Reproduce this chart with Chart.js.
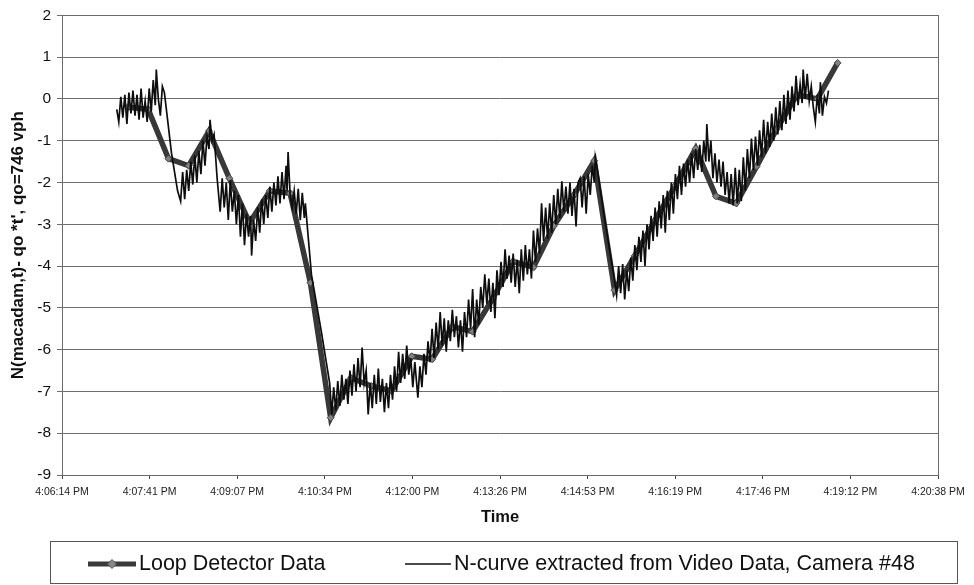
<!DOCTYPE html>
<html>
<head>
<meta charset="utf-8">
<script src="https://cdn.jsdelivr.net/npm/chart.js@4"></script>
<style>
  html, body { margin: 0; padding: 0; background: #fff; }
  #wrap { position: relative; width: 974px; height: 585px; font-family: "Liberation Sans", Arial, sans-serif; }
  #legend {
    position: absolute; left: 50px; top: 541px; width: 906px; height: 41px;
    border: 1px solid #555; box-sizing: content-box;
  }
  .item { position: absolute; top: 1px; height: 41px; display: flex; align-items: center; font-size: 21.5px; color: #111; white-space: nowrap; }
  .item svg { display: block; margin-right: 3px; }
</style>
</head>
<body>
<div id="wrap">
  <canvas id="chart" width="974" height="585"></canvas>
  <div id="legend">
    <div class="item" style="left:37px">
      <svg width="48" height="12"><line x1="0" y1="6" x2="48" y2="6" stroke="#3a3a3a" stroke-width="5"/><polygon points="24,1.5 28.5,6 24,10.5 19.5,6" fill="#888" stroke="#555" stroke-width="1"/></svg>
      <span>Loop Detector Data</span>
    </div>
    <div class="item" style="left:354px">
      <svg width="46" height="12"><line x1="0" y1="6" x2="46" y2="6" stroke="#111" stroke-width="1.5"/></svg>
      <span>N-curve extracted from Video Data, Camera #48</span>
    </div>
  </div>
</div>
<script>
// Time axis: seconds after 4:06:14 PM, one tick every 0.001 day (86.4 s)
const tickSeconds = [0, 86.4, 172.8, 259.2, 345.6, 432, 518.4, 604.8, 691.2, 777.6, 864];
const tickLabels = ['4:06:14 PM', '4:07:41 PM', '4:09:07 PM', '4:10:34 PM', '4:12:00 PM',
                    '4:13:26 PM', '4:14:53 PM', '4:16:19 PM', '4:17:46 PM', '4:19:12 PM', '4:20:38 PM'];

// Loop detector counts, 20-second intervals
const loopTimes = [65, 85, 105, 125, 145, 165, 185, 205, 225, 245, 265, 285, 305, 325, 345, 365,
                   385, 405, 425, 445, 465, 485, 505, 525, 545, 565, 585, 605, 625, 645, 665, 685,
                   705, 725, 745, 765];
const loopCounts = [-0.2, -0.25, -1.43, -1.6, -0.77, -1.9, -2.97, -2.2, -2.26, -4.4, -7.63, -6.68,
                    -6.87, -6.99, -6.16, -6.23, -5.45, -5.57, -4.77, -3.89, -4.03, -3.04, -2.3, -1.48,
                    -4.58, -3.75, -2.9, -2.07, -1.19, -2.33, -2.5, -1.62, -0.72, 0.1, 0.0, 0.86];

// N-curve from the video, [seconds, N - qo*t]
const videoCurve = [
  [54,-0.25],[56,-0.55],[58,0.05],[60,-0.45],[62,0.1],[64,-0.6],[66,0.15],[68,-0.35],[70,0.2],[72,-0.4],
  [74,0.1],[76,-0.5],[78,0.25],[80,-0.45],[82,-0.05],[84,-0.55],[86,0.25],[88,-0.3],[90,0.45],[92,-0.15],
  [93,0.7],[95,0.0],[97,-0.4],[99,0.3],[101,0.15],[108,-1.3],[114,-2.2],
  [117,-2.45],[119,-1.75],[121,-2.4],[123,-1.7],[125,-2.2],[127,-1.5],[129,-2.05],[131,-1.35],[133,-2.0],
  [135,-1.25],[137,-1.8],[139,-1.0],[141,-1.6],[143,-0.9],[145,-1.2],[146,-0.5],
  [148,-1.0],[150,-0.85],[153,-1.9],[156,-2.7],
  [158,-1.9],[160,-2.6],[162,-2.0],[164,-2.9],[166,-1.95],[168,-2.7],[170,-2.2],[172,-3.0],[174,-2.3],
  [176,-3.3],[178,-2.5],[180,-3.5],[182,-2.75],[184,-3.3],[186,-2.8],[187,-3.75],
  [189,-2.9],[191,-3.4],[193,-2.6],[195,-3.2],[197,-2.4],[199,-3.0],[201,-2.3],[203,-2.85],[205,-2.1],
  [207,-2.7],[209,-2.0],[211,-2.55],[213,-1.85],[215,-2.5],[217,-1.75],[219,-2.4],[221,-1.6],[222,-2.2],
  [223,-1.27],[225,-2.3],[227,-2.6],[229,-2.2],[231,-2.75],[233,-2.15],[235,-2.9],[237,-2.25],[239,-2.85],
  [240,-2.5],[246,-4.2],[256,-5.6],[264,-6.8],[266,-7.55],
  [268,-6.9],[270,-7.45],[272,-6.75],[274,-7.35],[276,-6.6],[278,-7.2],[280,-6.7],[282,-7.3],[284,-6.5],
  [286,-7.1],[288,-6.35],[290,-7.0],[292,-6.2],[294,-6.9],[296,-5.95],[298,-6.8],[300,-6.5],[302,-7.55],
  [304,-6.8],[306,-7.4],[308,-6.6],[310,-7.3],[312,-6.45],[314,-7.25],[316,-6.7],[318,-7.5],[320,-6.8],
  [322,-7.4],[324,-6.6],[326,-7.2],[328,-6.4],[330,-7.0],[332,-6.05],[334,-6.8],[336,-6.1],[338,-6.7],
  [340,-5.9],[342,-6.6],[344,-6.2],[346,-6.9],[348,-6.3],[351,-7.15],[353,-6.4],[355,-6.9],[357,-6.1],
  [359,-6.6],[361,-5.8],[363,-6.3],[365,-5.5],[367,-6.2],
  [369,-5.35],[371,-6.0],[373,-5.1],[375,-5.9],[377,-5.25],[379,-6.05],[381,-5.3],[383,-5.8],[385,-5.05],
  [387,-5.7],[389,-5.2],[391,-5.95],[393,-5.3],[395,-6.05],[397,-5.1],[399,-5.7],[401,-4.8],[403,-5.5],
  [405,-4.55],[407,-5.7],[409,-4.8],[411,-5.4],[413,-4.5],
  [415,-5.0],[417,-4.2],[419,-4.9],[421,-4.3],[423,-5.1],[425,-4.4],[427,-5.25],[429,-4.1],[431,-4.7],
  [433,-3.9],[435,-4.5],[437,-3.6],[439,-4.3],[441,-3.75],[443,-4.4],[445,-3.7],[447,-4.5],[449,-3.85],
  [451,-4.65],[453,-3.6],[455,-4.35],[457,-3.5],[459,-4.2],[461,-3.6],[463,-4.3],[465,-3.15],[467,-3.9],
  [469,-3.1],[471,-3.7],[473,-2.5],[475,-3.4],[477,-2.6],[479,-3.35],[481,-2.5],[483,-3.2],[485,-2.3],
  [487,-3.0],[489,-2.15],[491,-2.85],[493,-1.97],[495,-2.7],[497,-2.1],[499,-2.75],[501,-2.0],[503,-2.8],
  [505,-2.15],[507,-3.05],[509,-2.0],[511,-1.9],[513,-2.6],[515,-1.85],[517,-2.75],[519,-1.8],[521,-2.3],
  [523,-1.6],[525,-2.0],[526,-1.4],
  [528,-1.7],[536,-3.0],[544,-4.2],[547,-4.7],
  [549,-4.0],[551,-4.65],[553,-3.95],[555,-4.8],[557,-4.1],[559,-4.6],[561,-3.8],[563,-4.35],[565,-3.5],
  [567,-4.1],[569,-3.3],[571,-3.9],[573,-3.15],[575,-4.0],[577,-3.0],[579,-3.6],[581,-2.8],[583,-3.4],
  [585,-2.6],[587,-3.3],[589,-2.45],[591,-3.1],[593,-2.3],[595,-3.2],[597,-2.2],[599,-2.9],[601,-2.0],
  [603,-2.75],[605,-1.8],[607,-2.4],[609,-1.6],[611,-2.3],[613,-1.55],[615,-2.1],[617,-1.45],[619,-2.0],
  [621,-1.3],[623,-1.9],[625,-1.2],[627,-1.7],[629,-1.1],[631,-1.75],[633,-1.0],[635,-1.5],[636,-0.6],
  [638,-1.5],[640,-1.0],[642,-1.9],[644,-1.3],[646,-2.0],[648,-1.45],[650,-2.1],[652,-1.5],[654,-2.3],
  [656,-1.75],[658,-2.5],[660,-1.8],[662,-2.55],[664,-1.65],[666,-2.5],[668,-1.7],[670,-2.45],
  [672,-1.4],[674,-2.2],[676,-1.2],[678,-1.9],[680,-0.95],[682,-1.7],[684,-0.9],[686,-1.6],[688,-0.75],
  [690,-1.4],[692,-0.5],[694,-1.3],[696,-0.55],[698,-1.15],[700,-0.35],[702,-1.0],[704,-0.2],[706,-0.85],
  [708,-0.05],[710,-0.75],[712,0.1],[714,-0.6],[716,0.2],[718,-0.5],[720,0.3],[722,-0.3],[724,0.55],
  [726,-0.15],[728,0.35],[730,-0.1],[731,0.7],[733,0.0],[735,0.6],[737,-0.05],[739,0.3],[741,-0.2],
  [743,-0.55],[745,0.1],[747,-0.35],[748,0.4],[750,-0.4],[752,0.05],[754,-0.1],[756,0.2]
];

const FONT = '"Liberation Sans", Arial, sans-serif';

// Outline of the plotting area (top and right edges)
const frame = {
  id: 'frame',
  beforeDatasetsDraw(chart) {
    const { ctx, chartArea: a } = chart;
    ctx.save();
    ctx.strokeStyle = '#6a6a6a';
    ctx.lineWidth = 1;
    ctx.strokeRect(Math.round(a.left) + 0.5, Math.round(a.top) + 0.5,
                   Math.round(a.right - a.left), Math.round(a.bottom - a.top));
    ctx.restore();
  }
};

new Chart(document.getElementById('chart'), {
  type: 'line',
  data: {
    datasets: [
      {
        label: 'N-curve extracted from Video Data, Camera #48',
        data: videoCurve.map(([x, y]) => ({ x, y })),
        borderColor: '#0d0d0d',
        borderWidth: 1.7,
        pointRadius: 0,
        tension: 0,
        order: 0
      },
      {
        label: 'Loop Detector Data',
        data: loopTimes.map((x, i) => ({ x, y: loopCounts[i] })),
        borderColor: '#383838',
        borderWidth: 5.5,
        pointStyle: 'rectRot',
        pointRadius: 3.5,
        pointBackgroundColor: '#808080',
        pointBorderColor: '#4a4a4a',
        pointBorderWidth: 1,
        tension: 0,
        order: 1
      }
    ]
  },
  options: {
    responsive: false,
    animation: false,
    devicePixelRatio: 1,
    layout: { padding: { top: 10, right: 36, bottom: 58, left: 0 } },
    plugins: { legend: { display: false }, tooltip: { enabled: false } },
    scales: {
      x: {
        type: 'linear',
        min: 0,
        max: 864,
        afterBuildTicks: s => { s.ticks = tickSeconds.map(v => ({ value: v })); },
        afterFit: s => { s.height = 52; },
        ticks: {
          autoSkip: false,
          maxRotation: 0,
          padding: 7,
          color: '#222',
          font: { family: FONT, size: 10.5 },
          callback: (v, i) => tickLabels[i]
        },
        grid: { drawOnChartArea: false, drawTicks: true, tickLength: 4, color: '#444' },
        border: { color: '#444', width: 1 },
        title: {
          display: true,
          text: 'Time',
          color: '#111',
          font: { family: FONT, size: 16.5, weight: 'bold' },
          padding: { top: 0, bottom: 0 }
        }
      },
      y: {
        min: -9,
        max: 2,
        afterFit: s => { s.width = 62; },
        ticks: {
          stepSize: 1,
          padding: 6,
          color: '#111',
          font: { family: FONT, size: 15.5 }
        },
        grid: { color: '#6e6e6e', lineWidth: 1, tickLength: 5 },
        border: { color: '#444', width: 1 },
        title: {
          display: true,
          text: "N(macadam,t)- qo *t', qo=746 vph",
          color: '#111',
          font: { family: FONT, size: 17, weight: 'bold' },
          padding: { top: 8, bottom: 0 }
        }
      }
    }
  },
  plugins: [frame]
});
</script>
</body>
</html>
